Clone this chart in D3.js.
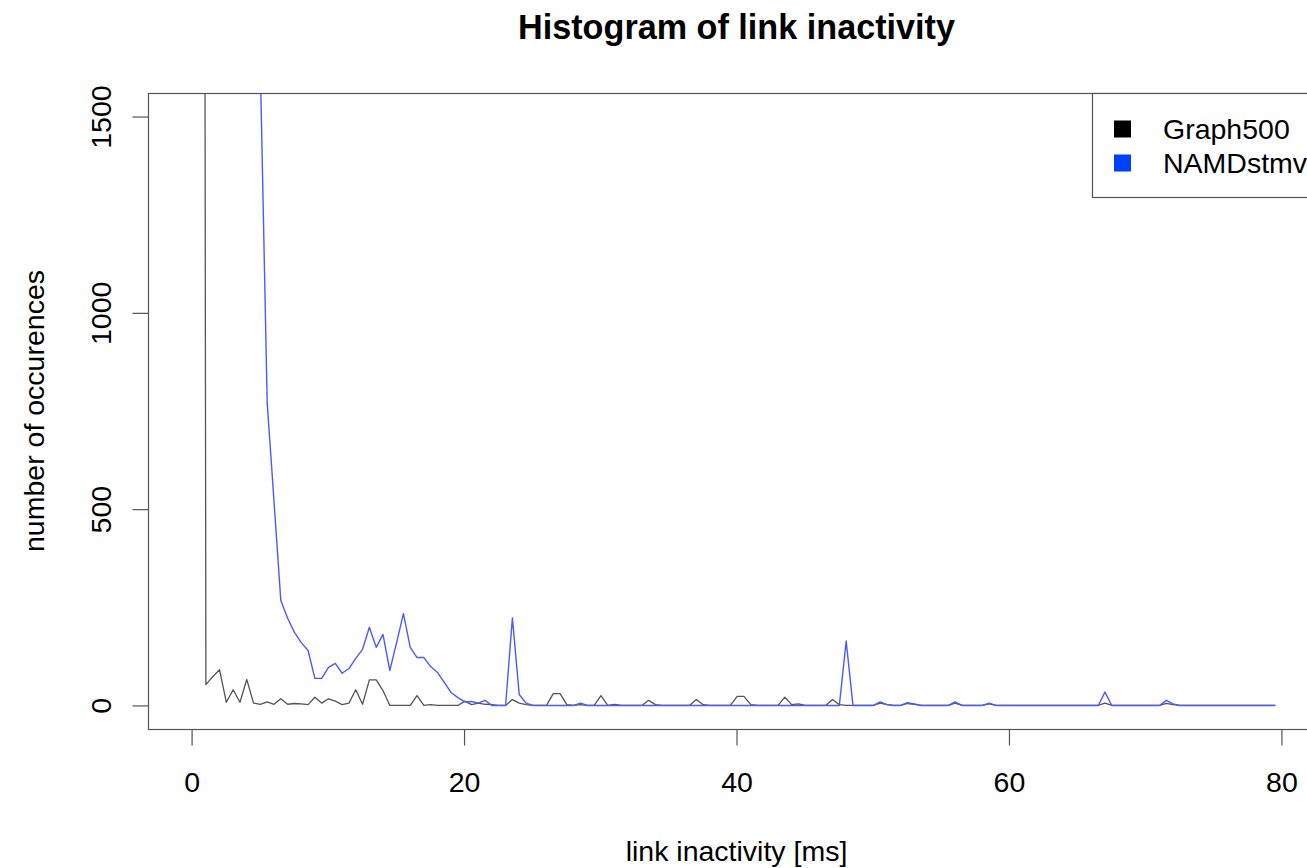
<!DOCTYPE html>
<html>
<head>
<meta charset="utf-8">
<script src="https://cdn.jsdelivr.net/npm/d3@7"></script>
<style>
  html, body { margin: 0; padding: 0; background: #fff; }
  svg { display: block; font-family: "Liberation Sans", Arial, Helvetica, sans-serif; }
</style>
</head>
<body>
<svg id="chart" width="1307" height="868"></svg>
<script>
// ---- Data ----
const seriesNames = ["Graph500", "NAMDstmv"];
const seriesColors = ["#000000", "#0040ff"];
const xTicks = [0, 20, 40, 60, 80];
const yTicks = [0, 500, 1000, 1500];

// histogram bin centres (ms): 160 bins of 0.5 ms
const binCenters = d3.range(160).map(k => 0.05 + 0.5 * k);

const graph500 = [
  40000, 12000, 53, 73, 91, 8, 40, 8, 66, 6,
  3, 9, 3, 17, 3, 5, 4, 2, 21, 6,
  17, 11, 2, 6, 40, 3, 65, 65, 38, 0,
  0, 0, 0, 25, 0, 2, 0, 0, 0, 0,
  11, 2, 6, 3, 2, 0, 0, 15, 6, 2,
  0, 0, 0, 30, 30, 2, 0, 2, 0, 0,
  25, 0, 3, 0, 0, 0, 0, 13, 2, 0,
  0, 0, 0, 0, 15, 2, 0, 0, 0, 0,
  23, 23, 2, 0, 0, 0, 0, 21, 2, 4,
  0, 0, 0, 0, 15, 2, 0, 0, 0, 0,
  0, 6, 2, 0, 0, 5, 3, 0, 0, 0,
  0, 0, 6, 0, 0, 0, 0, 4, 0, 0,
  0, 0, 0, 0, 0, 0, 0, 0, 0, 0,
  0, 0, 0, 0, 6, 0, 0, 0, 0, 0,
  0, 0, 0, 5, 2, 0, 0, 0, 0, 0,
  0, 0, 0, 0, 0, 0, 0, 0, 0, 0
];

const namdstmv = [
  28000, 19000, 13000, 9500, 7000, 5200, 3900, 3000, 2350, 1950,
  1620, 770, 520, 267, 222, 186, 160, 140, 69, 69,
  97, 107, 82, 94, 120, 143, 199, 148, 181, 89,
  160, 234, 148, 122, 122, 99, 84, 59, 33, 20,
  9, 10, 6, 13, 0, 0, 0, 223, 28, 6,
  0, 0, 0, 0, 0, 0, 0, 6, 0, 0,
  0, 0, 0, 0, 0, 0, 0, 0, 0, 0,
  0, 0, 0, 0, 0, 0, 0, 0, 0, 0,
  0, 0, 0, 0, 0, 0, 0, 0, 0, 0,
  0, 0, 0, 0, 0, 0, 164, 0, 0, 0,
  0, 9, 2, 0, 0, 7, 4, 0, 0, 0,
  0, 0, 9, 0, 0, 0, 0, 6, 0, 0,
  0, 0, 0, 0, 0, 0, 0, 0, 0, 0,
  0, 0, 0, 0, 34, 0, 0, 0, 0, 0,
  0, 0, 0, 13, 4, 0, 0, 0, 0, 0,
  0, 0, 0, 0, 0, 0, 0, 0, 0, 0
];

const titleText = "Histogram of link inactivity";
const xLabel = "link inactivity [ms]";
const yLabel = "number of occurences";

// ---- Layout ----
const W = 1307, H = 868;
const plot = { left: 148, top: 93, right: 1325, bottom: 729 };
const baseFont = 28.5;

const svg = d3.select("#chart");
svg.append("rect").attr("width", W).attr("height", H).attr("fill", "#fff");

// R-style 4% padded domains
const x = d3.scaleLinear().domain([-3.2, 83.2]).range([plot.left, plot.right]);
const y = d3.scaleLinear().domain([-60, 1560]).range([plot.bottom, plot.top]);

svg.append("defs").append("clipPath").attr("id", "plotClip")
  .append("rect")
  .attr("x", plot.left).attr("y", plot.top)
  .attr("width", plot.right - plot.left).attr("height", plot.bottom - plot.top);

const lineGen = d3.line().x(d => x(d[0])).y(d => y(d[1]));

const g = svg.append("g").attr("clip-path", "url(#plotClip)");
g.append("path")
  .datum(binCenters.map((c, i) => [c, graph500[i]]))
  .attr("d", lineGen)
  .attr("fill", "none")
  .attr("stroke", "#555")
  .attr("stroke-width", 1.3)
  .attr("stroke-linejoin", "round");
g.append("path")
  .datum(binCenters.map((c, i) => [c, namdstmv[i]]))
  .attr("d", lineGen)
  .attr("fill", "none")
  .attr("stroke", "#4a5cff")
  .attr("stroke-width", 1.4)
  .attr("stroke-linejoin", "round");

// box
svg.append("rect")
  .attr("x", plot.left + 0.5).attr("y", plot.top + 0.5)
  .attr("width", plot.right - plot.left).attr("height", plot.bottom - plot.top)
  .attr("fill", "none").attr("stroke", "#555").attr("stroke-width", 1.2);

// x axis
const xAxis = d3.axisBottom(x).tickValues(xTicks).tickSize(16).tickPadding(10)
  .tickFormat(d3.format("d"));
const xg = svg.append("g").attr("transform", `translate(0,${plot.bottom + 0.5})`).call(xAxis);
xg.select(".domain").remove();
xg.selectAll(".tick line").attr("stroke", "#555").attr("stroke-width", 1.2);
xg.selectAll(".tick text")
  .attr("font-size", baseFont).attr("fill", "#000")
  .attr("font-family", "Liberation Sans, Arial, sans-serif")
  .attr("dy", null).attr("y", 62);

// y axis
const yAxis = d3.axisLeft(y).tickValues(yTicks).tickSize(16).tickFormat(d3.format("d"));
const yg = svg.append("g").attr("transform", `translate(${plot.left + 0.5},0)`).call(yAxis);
yg.select(".domain").remove();
yg.selectAll(".tick line").attr("stroke", "#555").attr("stroke-width", 1.2);
yg.selectAll(".tick text")
  .attr("font-size", baseFont).attr("fill", "#000")
  .attr("font-family", "Liberation Sans, Arial, sans-serif")
  .attr("x", null).attr("dy", null)
  .attr("text-anchor", "middle")
  .attr("transform", "translate(-38,0) rotate(-90)");

// titles
svg.append("text")
  .attr("x", (plot.left + plot.right) / 2).attr("y", 39)
  .attr("text-anchor", "middle")
  .attr("font-size", baseFont * 1.2).attr("font-weight", "bold")
  .text(titleText);
svg.append("text")
  .attr("x", (plot.left + plot.right) / 2).attr("y", 861)
  .attr("text-anchor", "middle")
  .attr("font-size", baseFont)
  .text(xLabel);
svg.append("text")
  .attr("transform", `translate(44,${(plot.top + plot.bottom) / 2}) rotate(-90)`)
  .attr("text-anchor", "middle")
  .attr("font-size", baseFont)
  .text(yLabel);

// legend
const leg = svg.append("g");
leg.append("rect")
  .attr("x", 1092.5).attr("y", plot.top + 0.5)
  .attr("width", plot.right - 1092).attr("height", 104)
  .attr("fill", "#fff").attr("stroke", "#555").attr("stroke-width", 1.2);
seriesNames.forEach((name, i) => {
  const cy = 129 + i * 34;
  leg.append("rect")
    .attr("x", 1114).attr("y", cy - 8.5).attr("width", 17).attr("height", 17)
    .attr("fill", seriesColors[i]);
  leg.append("text")
    .attr("x", 1163).attr("y", cy + 10)
    .attr("font-size", baseFont)
    .text(name);
});
</script>
</body>
</html>
